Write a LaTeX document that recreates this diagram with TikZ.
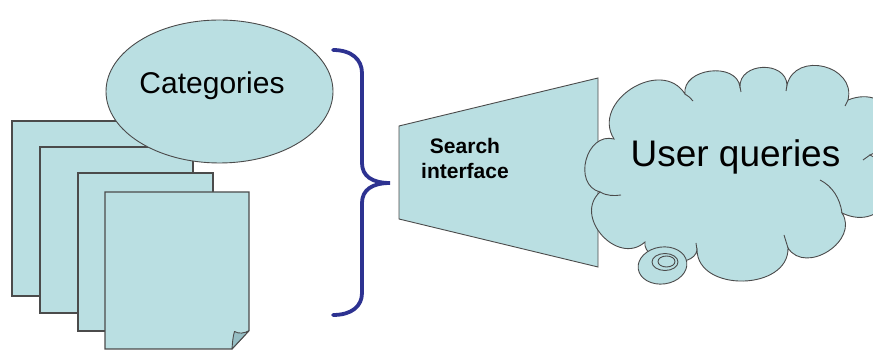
\documentclass[tikz,border=0pt]{standalone}
\usepackage{fontspec}
\setmainfont{Liberation Sans}
\usetikzlibrary{shapes.geometric}
\definecolor{paper}{RGB}{186,223,226}
\definecolor{paperdark}{RGB}{150,190,196}
\definecolor{edge}{RGB}{75,75,75}
\definecolor{bracecol}{RGB}{45,50,145}
\tikzset{
  sheet/.style={draw=edge, fill=paper, line width=1.1pt},
  blob/.style={draw=edge, fill=paper, line width=0.9pt},
  tail/.style={draw=edge, line width=0.9pt},
  bracestroke/.style={draw=bracecol, line width=3.8pt, line cap=round},
  fold/.style={draw=edge, fill=paperdark, line width=0.9pt, line join=round},
}
\begin{document}
\begin{tikzpicture}[x=1pt,y=1pt]
\useasboundingbox (0,0) rectangle (873,350);

% stack of documents
\draw[sheet] (12,54) rectangle (165,229);
\draw[sheet] (40,37) rectangle (193,203);

% categories ellipse
\node[ellipse, blob, minimum width=227pt, minimum height=143pt, inner sep=0pt] (cats) at (219.5,258.5) {};
\node[font=\fontsize{30}{36}\selectfont] (catlabel) at (212,264) {Categories};

\draw[sheet] (78,19) rectangle (213,177);
\draw[sheet] (105,158) -- (249,158) -- (249,19.3) -- (232,1) -- (105,1) -- cycle;
\draw[fold] (249,19.3) -- (232,1) .. controls (232.5,8) and (233,14) .. (234.5,18.5)
  .. controls (239,16) and (244,16.5) .. (249,19.3);

% grouping brace
\draw[bracestroke] (333,300) .. controls (352,300) and (362,290) .. (362,277) -- (362,187)
  .. controls (362,174) and (372,167) .. (390,167)
  .. controls (372,167) and (362,160) .. (362,147) -- (362,57)
  .. controls (362,44) and (352,35) .. (333,35);

% search interface funnel
\draw[blob] (399,224) -- (598,272) -- (598,83) -- (399,131) -- cycle;
\node[font=\bfseries\fontsize{21}{25}\selectfont, align=center] (search) at (465,192) {Search\\interface};

% thought cloud
\path[blob] (600,158) to[bend left=90, looseness=1.35] (614,211)
  to[bend left=90, looseness=1.35] (685,256)
  to[bend left=90, looseness=1.2] (740,263)
  to[bend left=90, looseness=1.35] (787,265)
  to[bend left=90, looseness=1.45] (848,250)
  to[bend left=90, looseness=2.0] (870,195)
  to[bend left=90, looseness=1.9] (842,137)
  to[bend left=90, looseness=1.3] (788,102)
  to[bend left=90, looseness=1.2] (697,100)
  to[bend left=90, looseness=1.0] (645,108)
  to[bend left=90, looseness=1.4] cycle;
\draw[tail] (600,158) .. controls (607,154) and (614,154) .. (621,155);
\draw[tail] (685,256) .. controls (688,254) and (691,252) .. (693,249);
\draw[tail] (740,263) -- (741,258);
\draw[tail] (787,265) -- (786,259);
\draw[tail] (848,250) -- (845,244);
\draw[tail] (870,195) -- (863,190);
\draw[tail] (842,137) .. controls (840,152) and (832,164) .. (820,170);
\draw[tail] (788,102) -- (784,115);
\draw[tail] (697,100) -- (696,107);
\node[font=\fontsize{37}{44}\selectfont] (queries) at (735.5,193) {User queries};

% small thought bubble
\draw[blob, rotate around={8:(662.5,84.5)}] (662.5,84.5) ellipse [x radius=24.5, y radius=18.5];
\draw[blob] (665,88) ellipse [x radius=13, y radius=8.5];
\draw[blob] (666.5,88.5) ellipse [x radius=8.5, y radius=5.5];
\end{tikzpicture}
\end{document}
